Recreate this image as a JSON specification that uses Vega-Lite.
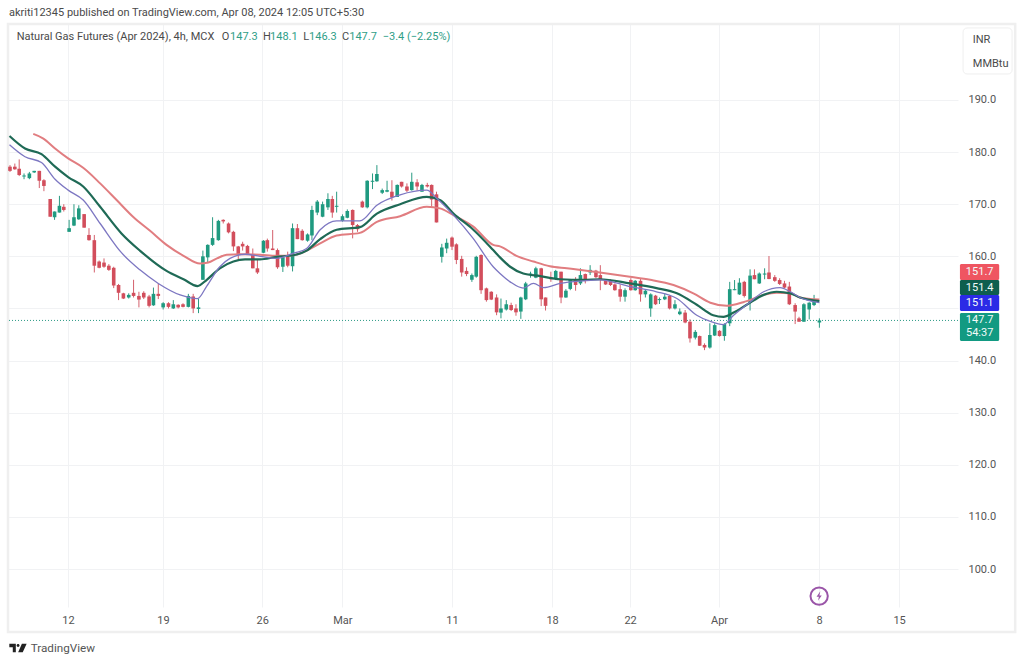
{"$schema":"https://vega.github.io/schema/vega-lite/v6.json","width":950,"height":583,"autosize":{"type":"none"},"padding":{"left":8,"top":24,"right":66,"bottom":58},"background":"#ffffff","config":{"view":{"stroke":null},"text":{"font":"Roboto"}},
"datasets":{
"candles":[
{"bar":0.0,"open":177.2,"high":177.5,"low":176.2,"close":176.4},{"bar":1.0,"open":177.2,"high":177.8,"low":176.6,"close":176.7},{"bar":1.9,"open":176.8,"high":178.6,"low":175.4,"close":175.6},{"bar":2.9,"open":175.3,"high":175.9,"low":174.8,"close":175.5},{"bar":4.0,"open":175.0,"high":176.2,"low":174.8,"close":175.9},{"bar":5.0,"open":176.1,"high":176.4,"low":176.0,"close":176.4},{"bar":6.05,"open":176.4,"high":176.4,"low":173.1,"close":174.5},{"bar":7.0,"open":174.6,"high":174.8,"low":172.5,"close":173.5},{"bar":8.3,"open":171.0,"high":171.0,"low":167.6,"close":167.6},{"bar":9.2,"open":167.5,"high":168.6,"low":167.0,"close":168.6},{"bar":10.2,"open":168.4,"high":171.6,"low":168.4,"close":169.7},{"bar":11.1,"open":169.5,"high":170.0,"low":168.6,"close":168.9},{"bar":12.2,"open":164.7,"high":167.0,"low":164.7,"close":165.4},{"bar":13.2,"open":165.9,"high":170.0,"low":165.8,"close":167.5},{"bar":14.2,"open":167.1,"high":169.8,"low":167.0,"close":169.2},{"bar":15.3,"open":168.1,"high":168.1,"low":165.5,"close":165.5},{"bar":16.3,"open":164.1,"high":165.4,"low":163.0,"close":163.1},{"bar":17.4,"open":163.1,"high":164.1,"low":156.9,"close":158.2},{"bar":18.4,"open":159.0,"high":159.2,"low":157.7,"close":157.8},{"bar":19.4,"open":158.8,"high":159.6,"low":157.8,"close":158.0},{"bar":20.4,"open":158.2,"high":158.5,"low":157.2,"close":157.4},{"bar":21.4,"open":157.8,"high":158.0,"low":153.9,"close":154.4},{"bar":22.4,"open":154.5,"high":154.7,"low":151.6,"close":153.0},{"bar":23.4,"open":152.9,"high":153.0,"low":151.8,"close":151.9},{"bar":24.5,"open":152.1,"high":152.9,"low":151.9,"close":152.6},{"bar":25.5,"open":153.0,"high":155.5,"low":152.1,"close":152.4},{"bar":26.6,"open":152.4,"high":153.2,"low":150.2,"close":151.7},{"bar":27.6,"open":153.0,"high":153.3,"low":151.8,"close":152.1},{"bar":28.7,"open":152.3,"high":152.6,"low":150.2,"close":150.5},{"bar":29.6,"open":150.6,"high":154.0,"low":150.5,"close":152.8},{"bar":30.6,"open":152.8,"high":154.7,"low":151.8,"close":152.4},{"bar":31.6,"open":150.2,"high":151.2,"low":149.8,"close":151.0},{"bar":32.7,"open":151.0,"high":151.2,"low":150.0,"close":150.3},{"bar":33.7,"open":150.0,"high":151.6,"low":149.9,"close":150.8},{"bar":34.7,"open":150.7,"high":150.8,"low":150.0,"close":150.2},{"bar":35.7,"open":150.8,"high":151.0,"low":150.2,"close":150.3},{"bar":36.8,"open":150.3,"high":152.8,"low":150.2,"close":152.4},{"bar":37.8,"open":152.3,"high":152.8,"low":149.1,"close":150.0},{"bar":38.9,"open":149.9,"high":151.9,"low":149.1,"close":150.2},{"bar":39.8,"open":155.5,"high":161.1,"low":155.5,"close":160.0},{"bar":40.8,"open":159.8,"high":162.3,"low":158.7,"close":162.2},{"bar":41.8,"open":162.2,"high":167.5,"low":162.0,"close":163.5},{"bar":43.0,"open":163.1,"high":167.0,"low":163.0,"close":166.8},{"bar":44.0,"open":167.0,"high":167.1,"low":166.3,"close":166.7},{"bar":45.1,"open":166.3,"high":166.5,"low":164.4,"close":164.6},{"bar":46.1,"open":164.7,"high":164.9,"low":161.0,"close":161.9},{"bar":47.1,"open":161.9,"high":162.0,"low":159.3,"close":160.3},{"bar":48.0,"open":162.4,"high":162.8,"low":161.1,"close":161.9},{"bar":49.0,"open":162.0,"high":162.2,"low":160.3,"close":160.4},{"bar":50.1,"open":160.4,"high":161.5,"low":157.7,"close":157.7},{"bar":51.05,"open":157.7,"high":159.3,"low":156.6,"close":156.9},
{"bar":52.3,"open":160.7,"high":163.1,"low":160.6,"close":163.0},{"bar":53.1,"open":163.1,"high":163.4,"low":160.9,"close":161.5},{"bar":54.2,"open":161.5,"high":165.05,"low":161.2,"close":161.2},{"bar":55.2,"open":161.2,"high":161.5,"low":157.6,"close":157.9},{"bar":56.3,"open":158.0,"high":159.9,"low":157.0,"close":159.8},{"bar":57.3,"open":159.9,"high":160.9,"low":157.9,"close":158.2},{"bar":58.3,"open":158.1,"high":166.3,"low":157.1,"close":165.4},{"bar":59.3,"open":165.4,"high":166.2,"low":163.3,"close":163.3},{"bar":60.3,"open":164.9,"high":165.2,"low":163.0,"close":163.1},{"bar":61.4,"open":163.0,"high":164.4,"low":162.8,"close":164.2},{"bar":62.3,"open":164.0,"high":169.7,"low":163.1,"close":168.9},{"bar":63.4,"open":168.4,"high":170.8,"low":167.9,"close":170.5},{"bar":64.5,"open":167.6,"high":170.5,"low":167.5,"close":170.0},{"bar":65.6,"open":169.4,"high":172.1,"low":168.9,"close":171.0},{"bar":66.5,"open":171.0,"high":171.6,"low":167.4,"close":168.4},{"bar":67.4,"open":169.5,"high":172.4,"low":168.4,"close":169.7},{"bar":68.6,"open":166.8,"high":168.05,"low":166.65,"close":167.7},{"bar":69.6,"open":167.4,"high":169.0,"low":167.3,"close":168.7},{"bar":70.7,"open":168.9,"high":169.0,"low":163.45,"close":166.0},{"bar":71.7,"open":166.0,"high":166.2,"low":164.7,"close":165.2},{"bar":72.7,"open":170.5,"high":170.7,"low":169.3,"close":169.4},{"bar":73.7,"open":169.4,"high":174.6,"low":169.2,"close":174.5},{"bar":74.8,"open":174.3,"high":175.9,"low":172.9,"close":174.5},{"bar":75.7,"open":174.4,"high":177.5,"low":174.3,"close":175.8},{"bar":76.8,"open":172.2,"high":173.0,"low":171.95,"close":172.7},{"bar":77.8,"open":172.4,"high":174.5,"low":172.3,"close":172.7},{"bar":78.8,"open":172.4,"high":174.6,"low":170.7,"close":171.3},{"bar":79.9,"open":171.4,"high":173.8,"low":171.4,"close":173.7},{"bar":80.8,"open":174.3,"high":174.3,"low":173.2,"close":173.4},{"bar":81.9,"open":173.4,"high":174.0,"low":172.3,"close":172.6},{"bar":82.9,"open":172.7,"high":176.05,"low":172.6,"close":174.3},{"bar":84.0,"open":174.2,"high":174.8,"low":172.6,"close":173.4},{"bar":85.0,"open":172.4,"high":173.9,"low":172.4,"close":173.7},{"bar":86.1,"open":173.7,"high":174.1,"low":173.2,"close":173.4},{"bar":87.0,"open":173.7,"high":173.8,"low":169.5,"close":170.9},{"bar":88.0,"open":171.9,"high":172.4,"low":166.5,"close":166.5},{"bar":89.1,"open":159.9,"high":162.4,"low":158.8,"close":161.7},{"bar":90.1,"open":161.5,"high":163.4,"low":160.6,"close":162.6},{"bar":91.2,"open":163.6,"high":163.8,"low":161.2,"close":161.85},{"bar":92.1,"open":162.3,"high":162.5,"low":158.5,"close":159.3},{"bar":93.2,"open":159.5,"high":160.1,"low":156.1,"close":156.9},{"bar":94.2,"open":157.2,"high":157.9,"low":156.2,"close":156.6},{"bar":95.3,"open":155.5,"high":156.7,"low":155.1,"close":156.4},{"bar":96.2,"open":156.1,"high":160.1,"low":155.9,"close":159.9},{"bar":97.2,"open":160.25,"high":160.4,"low":152.8,"close":153.5},{"bar":98.3,"open":153.85,"high":154.0,"low":151.3,"close":151.6},{"bar":99.3,"open":153.2,"high":153.3,"low":151.6,"close":151.7},{"bar":100.4,"open":152.1,"high":152.7,"low":148.7,"close":149.25},{"bar":101.3,"open":149.2,"high":151.9,"low":148.1,"close":150.0},{"bar":102.4,"open":149.8,"high":151.6,"low":149.6,"close":150.8},{"bar":103.4,"open":150.65,"high":151.1,"low":149.5,"close":149.7},{"bar":104.4,"open":150.0,"high":150.8,"low":148.6,"close":149.25},
{"bar":105.4,"open":149.4,"high":152.25,"low":148.0,"close":152.1},{"bar":106.4,"open":151.75,"high":155.1,"low":151.6,"close":154.8},{"bar":107.4,"open":156.5,"high":157.05,"low":155.9,"close":156.7},{"bar":108.5,"open":155.9,"high":158.0,"low":155.8,"close":157.7},{"bar":109.6,"open":157.7,"high":157.8,"low":150.45,"close":151.75},{"bar":110.5,"open":152.1,"high":152.1,"low":149.6,"close":150.5},{"bar":111.6,"open":156.0,"high":157.05,"low":155.1,"close":155.6},{"bar":112.6,"open":155.65,"high":157.4,"low":155.45,"close":157.2},{"bar":113.7,"open":157.05,"high":157.05,"low":151.0,"close":152.1},{"bar":114.7,"open":152.1,"high":153.7,"low":152.05,"close":153.4},{"bar":115.6,"open":153.75,"high":155.6,"low":153.5,"close":155.45},{"bar":116.7,"open":155.65,"high":156.0,"low":153.4,"close":154.5},{"bar":117.7,"open":154.8,"high":157.7,"low":154.5,"close":156.4},{"bar":118.7,"open":156.6,"high":156.7,"low":154.8,"close":155.3},{"bar":119.7,"open":156.9,"high":158.3,"low":156.4,"close":157.4},{"bar":120.9,"open":157.25,"high":157.4,"low":155.8,"close":156.0},{"bar":121.8,"open":156.4,"high":158.3,"low":153.5,"close":155.45},{"bar":122.9,"open":155.3,"high":155.6,"low":154.5,"close":154.6},{"bar":123.9,"open":155.3,"high":155.6,"low":154.3,"close":154.5},{"bar":124.8,"open":154.6,"high":154.8,"low":153.4,"close":153.5},{"bar":125.9,"open":153.7,"high":154.6,"low":151.3,"close":152.25},{"bar":126.9,"open":152.25,"high":153.85,"low":151.3,"close":153.5},{"bar":128.1,"open":155.45,"high":155.8,"low":153.4,"close":153.5},{"bar":129.0,"open":153.5,"high":155.45,"low":153.4,"close":155.3},{"bar":130.1,"open":155.3,"high":155.8,"low":151.3,"close":152.7},{"bar":131.1,"open":152.7,"high":153.7,"low":152.1,"close":153.4},{"bar":132.2,"open":150.0,"high":152.9,"low":148.4,"close":152.7},{"bar":133.2,"open":152.45,"high":152.6,"low":150.65,"close":150.8},{"bar":134.0,"open":151.6,"high":152.1,"low":150.85,"close":151.8},{"bar":135.1,"open":151.75,"high":152.9,"low":151.6,"close":152.25},{"bar":136.1,"open":152.4,"high":152.6,"low":149.8,"close":150.0},{"bar":137.2,"open":150.0,"high":151.6,"low":149.8,"close":150.8},{"bar":138.2,"open":148.9,"high":150.0,"low":148.7,"close":149.4},{"bar":139.3,"open":149.2,"high":149.7,"low":147.15,"close":147.3},{"bar":140.3,"open":147.45,"high":147.9,"low":143.45,"close":144.25},{"bar":141.4,"open":144.4,"high":145.85,"low":144.05,"close":145.5},{"bar":142.3,"open":144.7,"high":144.8,"low":142.8,"close":142.85},{"bar":143.3,"open":143.0,"high":143.3,"low":142.0,"close":142.5},{"bar":144.4,"open":142.5,"high":147.15,"low":142.3,"close":144.9},{"bar":145.4,"open":144.8,"high":147.15,"low":144.7,"close":146.8},{"bar":146.4,"open":145.7,"high":145.85,"low":144.6,"close":144.7},{"bar":147.4,"open":144.7,"high":147.15,"low":143.8,"close":147.0},{"bar":148.5,"open":147.15,"high":155.1,"low":146.6,"close":153.7},{"bar":149.5,"open":153.5,"high":155.45,"low":153.5,"close":153.7},{"bar":150.5,"open":152.7,"high":155.8,"low":152.6,"close":154.95},{"bar":151.5,"open":155.1,"high":155.3,"low":152.1,"close":152.4},{"bar":152.7,"open":151.1,"high":157.5,"low":149.6,"close":156.3},{"bar":153.6,"open":156.4,"high":157.5,"low":155.6,"close":155.6},{"bar":154.6,"open":154.8,"high":156.9,"low":154.7,"close":156.7},{"bar":155.7,"open":156.5,"high":157.7,"low":155.6,"close":156.7},{"bar":156.6,"open":156.9,"high":160.06,"low":155.6,"close":155.65},{"bar":157.8,"open":156.0,"high":156.4,"low":155.1,"close":155.3},{"bar":158.8,"open":155.45,"high":155.8,"low":154.5,"close":154.7},{"bar":159.8,"open":154.8,"high":155.3,"low":153.85,"close":154.0},{"bar":160.8,"open":154.2,"high":155.1,"low":150.65,"close":150.8},{"bar":162.0,"open":150.65,"high":151.0,"low":147.0,"close":149.4},{"bar":162.8,"open":148.1,"high":148.4,"low":147.45,"close":147.45},{"bar":163.8,"open":147.45,"high":151.0,"low":147.45,"close":150.8},{"bar":164.9,"open":149.8,"high":151.2,"low":147.9,"close":151.1},{"bar":165.9,"open":150.65,"high":152.6,"low":150.45,"close":151.3},{"bar":167.0,"open":147.3,"high":148.1,"low":146.3,"close":147.7}
],
"slow":[{"bar":4.8,"value":183.5},{"bar":6.9,"value":182.6},{"bar":9.3,"value":180.7},{"bar":12.0,"value":178.8},{"bar":15.1,"value":177.0},{"bar":18.6,"value":174.0},{"bar":22.0,"value":170.8},{"bar":25.5,"value":167.5},{"bar":28.9,"value":164.9},{"bar":32.3,"value":162.2},{"bar":35.8,"value":160.1},{"bar":39.2,"value":158.6},{"bar":40.9,"value":158.8},{"bar":42.7,"value":159.6},{"bar":44.7,"value":160.3},{"bar":47.5,"value":160.4},{"bar":51.6,"value":160.3},{"bar":55.0,"value":160.1},{"bar":58.5,"value":160.2},{"bar":61.2,"value":161.1},{"bar":64.0,"value":162.5},{"bar":67.4,"value":164.0},{"bar":72.2,"value":164.5},{"bar":75.7,"value":166.6},{"bar":80.5,"value":167.7},{"bar":86.0,"value":169.5},{"bar":88.7,"value":169.2},{"bar":91.5,"value":167.9},{"bar":95.6,"value":165.7},{"bar":99.7,"value":162.2},{"bar":101.1,"value":161.9},{"bar":104.5,"value":160.1},{"bar":108.0,"value":159.0},{"bar":111.4,"value":158.1},{"bar":114.9,"value":157.7},{"bar":121.7,"value":156.9},{"bar":127.9,"value":156.1},{"bar":132.1,"value":155.5},{"bar":136.9,"value":154.5},{"bar":141.0,"value":152.9},{"bar":144.5,"value":151.1},{"bar":147.9,"value":150.5},{"bar":151.3,"value":151.2},{"bar":152.0,"value":151.4},{"bar":155.5,"value":152.6},{"bar":158.2,"value":153.0},{"bar":161.0,"value":152.9},{"bar":163.0,"value":152.1},{"bar":167.0,"value":151.7}],
"mid":[{"bar":-0.1,"value":183.1},{"bar":3.1,"value":180.7},{"bar":6.5,"value":179.6},{"bar":9.3,"value":177.2},{"bar":12.0,"value":175.2},{"bar":15.1,"value":173.4},{"bar":18.6,"value":169.5},{"bar":23.0,"value":164.4},{"bar":26.8,"value":161.1},{"bar":32.3,"value":157.2},{"bar":35.8,"value":155.6},{"bar":38.7,"value":154.3},{"bar":40.6,"value":155.5},{"bar":43.3,"value":157.7},{"bar":46.1,"value":159.0},{"bar":48.5,"value":159.4},{"bar":51.6,"value":159.4},{"bar":55.0,"value":159.9},{"bar":58.5,"value":160.2},{"bar":61.2,"value":161.1},{"bar":64.0,"value":163.3},{"bar":67.4,"value":165.1},{"bar":72.2,"value":165.6},{"bar":75.7,"value":168.2},{"bar":80.5,"value":170.0},{"bar":86.0,"value":171.4},{"bar":88.7,"value":170.8},{"bar":91.5,"value":168.2},{"bar":95.6,"value":165.1},{"bar":99.7,"value":161.2},{"bar":101.1,"value":159.8},{"bar":103.2,"value":158.0},{"bar":105.9,"value":156.7},{"bar":109.4,"value":156.2},{"bar":113.5,"value":155.6},{"bar":118.3,"value":155.5},{"bar":121.7,"value":155.6},{"bar":127.9,"value":154.8},{"bar":133.4,"value":153.9},{"bar":137.6,"value":152.9},{"bar":141.7,"value":150.7},{"bar":145.1,"value":148.7},{"bar":147.2,"value":148.4},{"bar":149.3,"value":149.2},{"bar":152.0,"value":150.7},{"bar":155.5,"value":152.6},{"bar":158.2,"value":153.2},{"bar":161.0,"value":152.9},{"bar":163.0,"value":152.1},{"bar":167.0,"value":151.4}],
"fast":[{"bar":-0.1,"value":181.4},{"bar":3.1,"value":179.1},{"bar":6.5,"value":178.0},{"bar":9.3,"value":174.8},{"bar":12.0,"value":172.7},{"bar":15.1,"value":170.8},{"bar":18.6,"value":166.3},{"bar":23.0,"value":160.7},{"bar":26.8,"value":157.4},{"bar":30.6,"value":154.8},{"bar":35.1,"value":152.6},{"bar":38.7,"value":151.9},{"bar":40.6,"value":154.3},{"bar":43.3,"value":158.0},{"bar":45.4,"value":159.6},{"bar":48.5,"value":160.4},{"bar":51.6,"value":160.0},{"bar":55.0,"value":159.6},{"bar":58.5,"value":160.6},{"bar":61.2,"value":161.5},{"bar":64.0,"value":165.1},{"bar":67.4,"value":166.8},{"bar":72.2,"value":166.8},{"bar":75.7,"value":169.8},{"bar":80.5,"value":171.8},{"bar":86.0,"value":172.7},{"bar":88.1,"value":171.1},{"bar":91.5,"value":167.9},{"bar":95.6,"value":163.4},{"bar":99.7,"value":158.0},{"bar":101.1,"value":156.7},{"bar":103.2,"value":155.1},{"bar":105.9,"value":153.9},{"bar":108.0,"value":154.8},{"bar":110.1,"value":154.0},{"bar":113.5,"value":154.8},{"bar":118.3,"value":155.3},{"bar":121.7,"value":155.5},{"bar":127.9,"value":154.2},{"bar":133.4,"value":153.2},{"bar":137.6,"value":151.9},{"bar":141.7,"value":148.7},{"bar":144.5,"value":147.5},{"bar":147.2,"value":146.9},{"bar":149.3,"value":148.7},{"bar":152.0,"value":150.7},{"bar":155.5,"value":153.2},{"bar":158.9,"value":154.0},{"bar":161.0,"value":153.2},{"bar":163.0,"value":152.1},{"bar":167.0,"value":151.1}]
},
"layer":[
{"data":{"values":[{"x0":-0.41,"x1":207.4,"y0":204.58,"y1":87.91}]},"mark":{"type":"rect","fill":null,"stroke":"#efefef","strokeWidth":2.5},"encoding":{
"x":{"field":"x0","type":"quantitative","title":null,"scale":{"domain":[-0.41,195.6],"nice":false,"zero":false,"padding":0},"axis":{"values":[11.97,31.57,52.06,68.57,91.21,111.85,127.94,146.3,166.95,183.45],"labelExpr":"datum.value==11.97?'12':datum.value==31.57?'19':datum.value==52.06?'26':datum.value==68.57?'Mar':datum.value==91.21?'11':datum.value==111.85?'18':datum.value==127.94?'22':datum.value==146.3?'Apr':datum.value==166.95?'8':'15'","grid":true,"gridColor":"#f1f2f4","gridWidth":1,"domain":false,"ticks":false,"labelFont":"Roboto","labelFontSize":11,"labelColor":"#555555","labelPadding":7,"labelFlush":false,"labelOverlap":false,"title":null}},
"x2":{"field":"x1"},
"y":{"field":"y0","type":"quantitative","title":null,"scale":{"domain":[92.71,204.58],"nice":false,"zero":false,"padding":0},"axis":{"orient":"right","values":[100,110,120,130,140,150,160,170,180,190],"labelExpr":"datum.value==150?'':format(datum.value,'.1f')","grid":true,"gridColor":"#f1f2f4","gridWidth":1,"domain":false,"ticks":false,"labelFont":"Roboto","labelFontSize":11,"labelColor":"#555555","labelPadding":10,"title":null}},
"y2":{"field":"y1"}}},
{"data":{"values":[{"price":147.7}]},"mark":{"type":"rule","color":"#2c9a85","strokeWidth":1,"strokeDash":[1,2]},"encoding":{"y":{"field":"price","type":"quantitative","title":null}}},
{"data":{"name":"candles"},"mark":{"type":"rule","strokeWidth":1},"encoding":{"x":{"field":"bar","type":"quantitative","title":null},"y":{"field":"low","type":"quantitative","title":null},"y2":{"field":"high"},"color":{"condition":{"test":"datum.close>=datum.open","value":"#2a9a82"},"value":"#d4606c"}}},
{"data":{"name":"candles"},"mark":{"type":"bar","width":3.6,"orient":"vertical"},"encoding":{"x":{"field":"bar","type":"quantitative","title":null},"y":{"field":"open","type":"quantitative","title":null},"y2":{"field":"close"},"color":{"condition":{"test":"datum.close>=datum.open","value":"#1f9a80"},"value":"#d24e5c"}}},
{"data":{"name":"slow"},"mark":{"type":"line","color":"#e17d80","strokeWidth":2,"interpolate":"monotone"},"encoding":{"x":{"field":"bar","type":"quantitative","title":null},"y":{"field":"value","type":"quantitative","title":null}}},
{"data":{"name":"mid"},"mark":{"type":"line","color":"#1f6a56","strokeWidth":2.2,"interpolate":"monotone"},"encoding":{"x":{"field":"bar","type":"quantitative","title":null},"y":{"field":"value","type":"quantitative","title":null}}},
{"data":{"name":"fast"},"mark":{"type":"line","color":"#7d77c2","strokeWidth":1.3,"interpolate":"monotone"},"encoding":{"x":{"field":"bar","type":"quantitative","title":null},"y":{"field":"value","type":"quantitative","title":null}}},
{"data":{"values":[{"x0":196.65,"x1":206.76,"y0":203.82,"y1":194.99}]},"mark":{"type":"rect","fill":"#ffffff","stroke":"#efefef","strokeWidth":1,"cornerRadius":4},"encoding":{"x":{"field":"x0","type":"quantitative","title":null},"x2":{"field":"x1"},"y":{"field":"y0","type":"quantitative","title":null},"y2":{"field":"y1"}}},
{"data":{"values":[{"x0":196.0,"x1":204.1,"y0":158.53,"y1":155.46,"tag":"slow"},{"x0":196.0,"x1":204.1,"y0":155.46,"y1":152.58,"tag":"mid"},{"x0":196.0,"x1":204.1,"y0":152.58,"y1":149.51,"tag":"fast"},{"x0":196.0,"x1":204.1,"y0":149.12,"y1":143.75,"tag":"last"}]},"mark":{"type":"rect","cornerRadius":1.5},"encoding":{"x":{"field":"x0","type":"quantitative","title":null},"x2":{"field":"x1"},"y":{"field":"y0","type":"quantitative","title":null},"y2":{"field":"y1"},"color":{"field":"tag","type":"nominal","legend":null,"scale":{"domain":["slow","mid","fast","last"],"range":["#ef5561","#0e5e4e","#2b2be6","#129a82"]}}}},
{"data":{"values":[{"x":200.07,"y":156.99,"label":"151.7"},{"x":200.07,"y":153.92,"label":"151.4"},{"x":200.07,"y":150.95,"label":"151.1"},{"x":200.07,"y":147.78,"label":"147.7"},{"x":200.07,"y":145.29,"label":"54:37"}]},"mark":{"type":"text","color":"#f2fbf9","font":"Roboto","fontSize":11,"align":"center","baseline":"middle"},"encoding":{"x":{"field":"x","type":"quantitative","title":null},"y":{"field":"y","type":"quantitative","title":null},"text":{"field":"label"}}},
{"data":{"values":[{"x":-0.2,"y":206.7,"label":"akriti12345 published on TradingView.com, Apr 08, 2024 12:05 UTC+5:30"},{"x":1.38,"y":202.09,"label":"Natural Gas Futures (Apr 2024), 4h, MCX"},{"x":43.7,"y":202.09,"label":"O"},{"x":52.2,"y":202.09,"label":"H"},{"x":60.5,"y":202.09,"label":"L"},{"x":68.5,"y":202.09,"label":"C"},{"x":198.65,"y":201.55,"label":"INR"},{"x":198.65,"y":196.95,"label":"MMBtu"}]},"mark":{"type":"text","color":"#4a4a4a","font":"Roboto","fontSize":11,"align":"left","baseline":"middle"},"encoding":{"x":{"field":"x","type":"quantitative","title":null},"y":{"field":"y","type":"quantitative","title":null},"text":{"field":"label"}}},
{"data":{"values":[{"x":45.4,"y":202.09,"label":"147.3"},{"x":53.65,"y":202.09,"label":"148.1"},{"x":61.7,"y":202.09,"label":"146.3"},{"x":70.0,"y":202.09,"label":"147.7"},{"x":76.9,"y":202.09,"label":"−3.4 (−2.25%)"}]},"mark":{"type":"text","color":"#2f9e87","font":"Roboto","fontSize":11,"align":"left","baseline":"middle"},"encoding":{"x":{"field":"x","type":"quantitative","title":null},"y":{"field":"y","type":"quantitative","title":null},"text":{"field":"label"}}},
{"data":{"values":[{"x":4.27,"y":84.75,"label":"TradingView"}]},"mark":{"type":"text","color":"#555555","font":"Roboto","fontSize":11.7,"align":"left","baseline":"middle"},"encoding":{"x":{"field":"x","type":"quantitative","title":null},"y":{"field":"y","type":"quantitative","title":null},"text":{"field":"label"}}},
{"data":{"values":[{"x":1.65,"y":84.84}]},"mark":{"type":"point","filled":true,"opacity":1,"color":"#222222","size":300,"shape":"M-1,-0.5 L-0.25,-0.5 L-0.25,0.5 L-0.6,0.5 L-0.6,-0.1 L-1,-0.1 Z M-0.16,-0.3 A0.17,0.17 0 1 0 0.18,-0.3 A0.17,0.17 0 1 0 -0.16,-0.3 Z M0.45,-0.5 L1,-0.5 L0.55,0.5 L0.02,0.5 Z"},"encoding":{"x":{"field":"x","type":"quantitative","title":null},"y":{"field":"y","type":"quantitative","title":null}}},
{"data":{"values":[{"x":166.95,"y":94.8}]},"mark":{"type":"point","filled":false,"opacity":1,"stroke":"#9a55a8","strokeWidth":2,"size":300},"encoding":{"x":{"field":"x","type":"quantitative","title":null},"y":{"field":"y","type":"quantitative","title":null}}},
{"data":{"values":[{"x":166.95,"y":94.8}]},"mark":{"type":"point","filled":true,"opacity":1,"color":"#9a55a8","size":90,"shape":"M0.25,-1 L-0.55,0.15 L-0.05,0.15 L-0.25,1 L0.55,-0.15 L0.05,-0.15 Z"},"encoding":{"x":{"field":"x","type":"quantitative","title":null},"y":{"field":"y","type":"quantitative","title":null}}}
]}
